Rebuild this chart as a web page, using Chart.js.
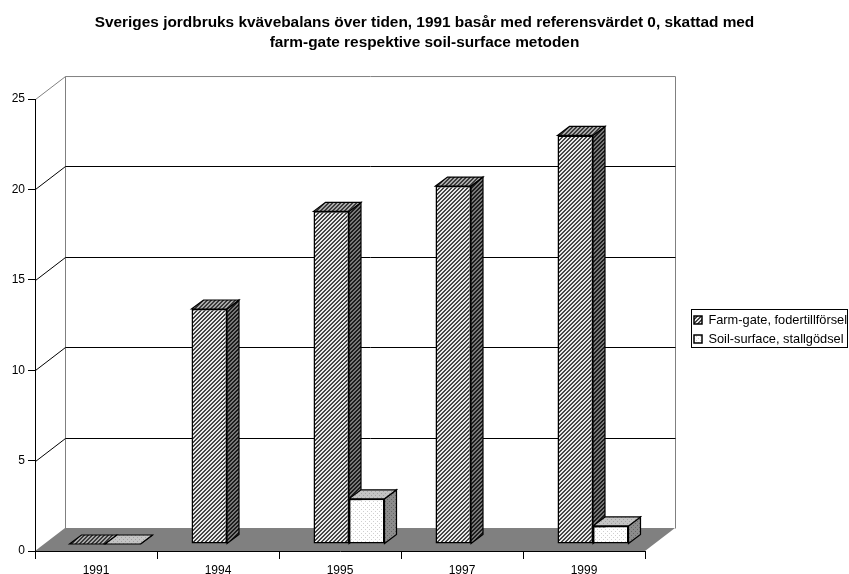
<!DOCTYPE html>
<html lang="sv">
<head>
<meta charset="utf-8">
<title>Kvävebalans</title>
<script src="https://cdn.jsdelivr.net/npm/chart.js@4/dist/chart.umd.min.js"></script>
<style>
  html, body { margin: 0; background: #fff; }
  canvas { display: block; }
</style>
</head>
<body>
<canvas id="balansChart" width="849" height="574"></canvas>
<script>
const titleLines = [
  'Sveriges jordbruks kvävebalans över tiden, 1991 basår med referensvärdet 0, skattad med',
  'farm-gate respektive soil-surface metoden'
];
const years = ['1991', '1994', '1995', '1997', '1999'];
const farmGate = [0, 13, 18.4, 19.8, 22.6];
const soilSurface = [0, null, 2.5, null, 1];
const yTicks = [0, 5, 10, 15, 20, 25];

const FONT = '"Liberation Sans", Arial, sans-serif';

// depth of the room behind the axes, and of each bar
const WALL_DX = 30, WALL_DY = -23;
const BAR_SHIFT_X = 9, BAR_SHIFT_Y = -7;
const BAR_DX = 12, BAR_DY = -9;

// small pixel tiles, repeated as canvas patterns
function diagonal(dark, light) {
  const c = document.createElement('canvas');
  c.width = c.height = 4;
  const g = c.getContext('2d');
  for (let y = 0; y < 4; y++) {
    for (let x = 0; x < 4; x++) {
      g.fillStyle = (x + y) % 4 < 2 ? dark : light;
      g.fillRect(x, y, 1, 1);
    }
  }
  return g.createPattern(c, 'repeat');
}

function dotted(bg, dot) {
  const c = document.createElement('canvas');
  c.width = c.height = 4;
  const g = c.getContext('2d');
  g.fillStyle = bg;
  g.fillRect(0, 0, 4, 4);
  g.fillStyle = dot;
  g.fillRect(0, 0, 1, 1);
  g.fillRect(2, 2, 1, 1);
  return g.createPattern(c, 'repeat');
}

const faces = [
  { side: diagonal('#1c1c1c', '#777'), top: diagonal('#3a3a3a', '#a8a8a8') },
  { side: dotted('#8c8c8c', '#666'), top: dotted('#c4c4c4', '#a0a0a0') }
];

function poly(ctx, pts, fill) {
  ctx.beginPath();
  pts.forEach((p, i) => i ? ctx.lineTo(p[0], p[1]) : ctx.moveTo(p[0], p[1]));
  ctx.closePath();
  ctx.fillStyle = fill;
  ctx.fill();
  ctx.stroke();
}

// side and top of every bar in one dataset, read from the bar elements
function drawDepth(chart, index) {
  const { ctx } = chart;
  const values = chart.data.datasets[index].data;
  ctx.save();
  ctx.lineWidth = 1.2;
  ctx.strokeStyle = '#000';
  chart.getDatasetMeta(index).data.forEach((bar, i) => {
    if (values[i] === null) return;
    const { x, y, base, width } = bar.getProps(['x', 'y', 'base', 'width'], true);
    const l = x - width / 2, r = x + width / 2;
    poly(ctx, [[r, y], [r + BAR_DX, y + BAR_DY], [r + BAR_DX, base + BAR_DY], [r, base]], faces[index].side);
    poly(ctx, [[l, y], [l + BAR_DX, y + BAR_DY], [r + BAR_DX, y + BAR_DY], [r, y]], faces[index].top);
  });
  ctx.restore();
}

const room3d = {
  id: 'room3d',
  afterLayout(chart) {
    // legend sits outside the plot; bottom left loose so both rows stay in one column
    const lg = chart.legend;
    lg.left = 687.8; lg.right = 848; lg.top = 307.4; lg.bottom = 362;
    // title centres on the whole canvas, not the padded part
    chart.titleBlock.left = 0;
    chart.titleBlock.right = chart.width;
  },
  beforeDraw(chart) {
    const { ctx, chartArea: a, scales: { y } } = chart;
    ctx.save();
    ctx.lineWidth = 1;

    // back wall and left wall outline
    ctx.strokeStyle = '#808080';
    ctx.beginPath();
    ctx.moveTo(a.left + 0.5, a.top + 0.5);
    ctx.lineTo(a.left + WALL_DX + 0.5, a.top + WALL_DY + 0.5);
    ctx.lineTo(a.right + WALL_DX + 0.5, a.top + WALL_DY + 0.5);
    ctx.lineTo(a.right + WALL_DX + 0.5, a.bottom + WALL_DY + 0.5);
    ctx.moveTo(a.left + WALL_DX + 0.5, a.top + WALL_DY + 0.5);
    ctx.lineTo(a.left + WALL_DX + 0.5, a.bottom + WALL_DY + 0.5);
    ctx.stroke();

    // gridlines run up the left wall and across the back
    ctx.strokeStyle = '#000';
    yTicks.slice(1, -1).forEach(v => {
      const py = Math.round(y.getPixelForValue(v)) + 0.5;
      ctx.beginPath();
      ctx.moveTo(a.left + 0.5, py);
      ctx.lineTo(a.left + WALL_DX + 0.5, py + WALL_DY);
      ctx.lineTo(a.right + WALL_DX + 0.5, py + WALL_DY);
      ctx.stroke();
    });

    // floor
    ctx.fillStyle = '#808080';
    ctx.beginPath();
    ctx.moveTo(a.left, a.bottom);
    ctx.lineTo(a.left + WALL_DX, a.bottom + WALL_DY);
    ctx.lineTo(a.right + WALL_DX, a.bottom + WALL_DY);
    ctx.lineTo(a.right, a.bottom);
    ctx.closePath();
    ctx.fill();

    // legend frame
    ctx.strokeStyle = '#000';
    ctx.strokeRect(691.5, 309.5, 156, 38);
    ctx.restore();
  },
  // the left-hand series has to go down first so the right-hand bars cover its side,
  // so the second dataset's own pass is skipped and it is drawn after the first
  beforeDatasetDraw(chart, args) {
    if (args.index === 1) return false;
    chart.ctx.save();
    chart.ctx.translate(BAR_SHIFT_X, BAR_SHIFT_Y);
    drawDepth(chart, 0);
  },
  afterDatasetDraw(chart) {
    drawDepth(chart, 1);
    chart.getDatasetMeta(1).controller.draw();
    chart.ctx.restore();
  }
};

new Chart(document.getElementById('balansChart').getContext('2d'), {
  type: 'bar',
  data: {
    labels: years,
    datasets: [
      {
        label: 'Farm-gate, fodertillförsel',
        data: farmGate,
        backgroundColor: diagonal('#444', '#e8e8e8'),
        borderColor: '#000',
        borderWidth: 1.5,
        inflateAmount: 0,
        borderSkipped: false
      },
      {
        label: 'Soil-surface, stallgödsel',
        data: soilSurface,
        backgroundColor: dotted('#fff', '#d0d0d0'),
        borderColor: '#000',
        borderWidth: 1.5,
        inflateAmount: 0,
        borderSkipped: false
      }
    ]
  },
  options: {
    responsive: false,
    animation: false,
    layout: { padding: { left: 0, top: 0, right: 204, bottom: 0 } },
    datasets: { bar: { categoryPercentage: 0.582, barPercentage: 1 } },
    scales: {
      x: {
        afterFit(scale) { scale.height = 23; },
        grid: { drawOnChartArea: false, color: '#000', tickLength: 8 },
        border: { color: '#000' },
        ticks: { color: '#000', font: { family: FONT, size: 12 }, padding: 4, maxRotation: 0 }
      },
      y: {
        min: 0,
        max: 25,
        afterFit(scale) { scale.width = 35; },
        afterBuildTicks(scale) { scale.ticks = yTicks.map(value => ({ value })); },
        grid: { drawOnChartArea: false, color: '#000', tickLength: 7 },
        border: { color: '#000' },
        ticks: { color: '#000', font: { family: FONT, size: 12 }, padding: 3 }
      }
    },
    plugins: {
      title: {
        display: true,
        text: titleLines,
        color: '#000',
        font: { family: FONT, size: 15.4, weight: 'bold', lineHeight: 1.3 },
        padding: { top: 13, bottom: 46 }
      },
      legend: {
        position: 'chartArea',
        align: 'start',
        labels: {
          color: '#000',
          font: { family: FONT, size: 12.8 },
          boxWidth: 8,
          boxHeight: 8,
          padding: 6.2
        }
      },
      tooltip: { enabled: false }
    }
  },
  plugins: [room3d]
});
</script>
</body>
</html>
